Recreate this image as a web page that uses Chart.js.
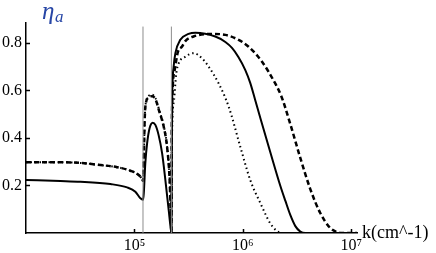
<!DOCTYPE html>
<html>
<head>
<meta charset="utf-8">
<script src="https://cdn.jsdelivr.net/npm/chart.js@4.4.1/dist/chart.umd.min.js"></script>
<style>
  html, body { margin: 0; padding: 0; background: #fff; }
  #wrap { width: 436px; height: 253px; position: relative; }
</style>
</head>
<body>
<div id="wrap"><canvas id="chart"></canvas></div>
<script>
// values (k in cm^-1, eta_a)
const solidK = [1.0e4, 2.08e4, 3.18e4, 6.01e4, 8.57e4, 1.02e5, 1.135e5, 1.2e5, 1.22e5, 1.26e5, 1.31e5, 1.38e5,
  1.476e5, 1.56e5, 1.67e5, 1.8e5, 1.93e5, 2.07e5, 2.175e5, 2.193e5, 2.223e5, 2.3e5, 2.39e5, 2.65e5, 3.16e5,
  3.65e5, 5.57e5, 6.9e5, 7.94e5, 9.1e5, 1.054e6, 1.17e6, 1.3e6, 1.45e6, 1.79e6, 2.22e6, 2.47e6, 2.74e6,
  3.05e6, 3.39e6, 3.77e6, 1.13e7];
const solidEta = [0.223, 0.219, 0.216, 0.206, 0.192, 0.174, 0.146, 0.140, 0.167, 0.293, 0.378, 0.441,
  0.464, 0.455, 0.413, 0.336, 0.223, 0.097, 0.01, 0, 0.518, 0.70, 0.758, 0.813, 0.838,
  0.843, 0.827, 0.804, 0.779, 0.741, 0.686, 0.632, 0.560, 0.484, 0.341, 0.198, 0.135, 0.076,
  0.029, 0.006, 0, 0];

const dashK = [1.0e4, 2.08e4, 3.18e4, 4.87e4, 6.94e4, 9.19e4, 1.096e5, 1.175e5, 1.2e5, 1.22e5, 1.236e5, 1.262e5,
  1.346e5, 1.455e5, 1.563e5, 1.7e5, 1.862e5, 2.0e5, 2.113e5, 2.178e5, 2.193e5, 2.21e5, 2.34e5, 2.51e5, 2.75e5,
  2.95e5, 3.55e5, 5.2e5, 6.9e5, 9.14e5, 1.13e6, 1.51e6, 1.91e6, 2.26e6, 2.74e6, 3.39e6, 4.19e6, 5.18e6,
  6.4e6, 7.59e6, 8.2e6, 1.13e7];
const dashEta = [0.298, 0.298, 0.295, 0.286, 0.277, 0.262, 0.244, 0.228, 0.22, 0.29, 0.434, 0.532,
  0.570, 0.576, 0.563, 0.51, 0.448, 0.363, 0.223, 0.04, 0, 0.45, 0.68, 0.76, 0.785,
  0.808, 0.828, 0.838, 0.834, 0.813, 0.784, 0.72, 0.644, 0.577, 0.459, 0.316, 0.185, 0.084,
  0.021, 0.002, 0, 0];

const dotK = [1.0e4, 2.08e4, 3.18e4, 4.87e4, 6.94e4, 9.19e4, 1.096e5, 1.175e5, 1.2e5, 1.22e5, 1.236e5, 1.262e5,
  1.346e5, 1.455e5, 1.563e5, 1.7e5, 1.862e5, 2.0e5, 2.113e5, 2.178e5, 2.193e5, 2.21e5, 2.32e5, 2.43e5, 2.56e5,
  2.95e5, 3.52e5, 4.21e5, 4.84e5, 5.98e5, 7.4e5, 9.48e5, 1.17e6, 1.45e6, 1.79e6, 2.07e6, 2.31e6, 1.13e7];
const dotEta = [0.298, 0.298, 0.295, 0.286, 0.277, 0.262, 0.244, 0.228, 0.22, 0.29, 0.434, 0.532,
  0.575, 0.582, 0.568, 0.515, 0.452, 0.366, 0.225, 0.04, 0, 0.35, 0.56, 0.67, 0.714,
  0.742, 0.757, 0.735, 0.70, 0.63, 0.532, 0.363, 0.223, 0.126, 0.041, 0.008, 0, 0];

// thin vertical markers
const markerK = [1.2e5, 2.193e5];
const markerTop = 0.869;

const yTicks = [0.2, 0.4, 0.6, 0.8];
const xTicks = [1e5, 1e6, 1e7];
const xTickLabels = ['10\u2075', '10\u2076', '10\u2077'];

const serif = "'Liberation Serif', 'Times New Roman', serif";

function pts(ks, ys) {
  return ks.map((k, i) => ({ x: k, y: ys[i] }));
}

const markerSets = markerK.map(k => ({
  data: [{ x: k, y: 0 }, { x: k, y: markerTop }],
  borderColor: '#8c8c8c',
  borderWidth: 1,
  pointRadius: 0
}));

// inward ticks + axis labels drawn by hand
const decor = {
  id: 'decor',
  afterDraw(chart) {
    const { ctx, chartArea: a, scales: { x, y } } = chart;
    ctx.save();
    ctx.strokeStyle = '#000';
    ctx.lineWidth = 1.5;
    ctx.beginPath();
    yTicks.forEach(v => {
      const py = Math.round(y.getPixelForValue(v)) + 0.5;
      ctx.moveTo(a.left, py);
      ctx.lineTo(a.left + 4, py);
    });
    xTicks.forEach(v => {
      const px = Math.round(x.getPixelForValue(v)) + 0.5;
      ctx.moveTo(px, a.bottom);
      ctx.lineTo(px, a.bottom - 4);
    });
    ctx.stroke();

    ctx.fillStyle = '#2746a6';
    ctx.textBaseline = 'alphabetic';
    ctx.font = 'italic 25px ' + serif;
    ctx.fillText('\u03b7', a.left + 16, 19);
    ctx.font = 'italic 17px ' + serif;
    ctx.fillText('a', a.left + 29, 22);

    ctx.fillStyle = '#000';
    ctx.font = '18px ' + serif;
    ctx.textBaseline = 'middle';
    ctx.fillText('k(cm^-1)', a.right + 5, a.bottom);
    ctx.restore();
  }
};

new Chart(document.getElementById('chart'), {
  type: 'line',
  data: {
    datasets: [
      ...markerSets,
      { data: pts(dotK, dotEta), borderColor: '#000', borderWidth: 2, borderDash: [1.5, 3], pointRadius: 0, cubicInterpolationMode: 'monotone' },
      { data: pts(dashK, dashEta), borderColor: '#000', borderWidth: 2.5, borderDash: [5, 3], pointRadius: 0, cubicInterpolationMode: 'monotone' },
      { data: pts(solidK, solidEta), borderColor: '#000', borderWidth: 2, pointRadius: 0, cubicInterpolationMode: 'monotone' }
    ]
  },
  options: {
    responsive: true,
    maintainAspectRatio: false,
    animation: false,
    layout: { padding: { top: 23, right: 79, left: 0, bottom: 0 } },
    plugins: { legend: { display: false }, tooltip: { enabled: false } },
    scales: {
      x: {
        type: 'logarithmic',
        min: 1e4,
        max: 1.13e7,
        afterBuildTicks: s => { s.ticks = xTicks.map(v => ({ value: v })); },
        afterFit: s => { s.height = 20; },
        grid: { display: true, drawOnChartArea: false, drawTicks: false },
        border: { display: true, color: '#000', width: 1.5 },
        ticks: {
          autoSkip: false,
          maxRotation: 0,
          padding: 3,
          color: '#000',
          font: { family: serif, size: 16 },
          callback: v => xTickLabels[xTicks.indexOf(v)]
        }
      },
      y: {
        min: 0,
        max: 0.884,
        afterBuildTicks: s => { s.ticks = yTicks.map(v => ({ value: v })); },
        afterFit: s => { s.width = 26; },
        grid: { display: true, drawOnChartArea: false, drawTicks: false },
        border: { display: true, color: '#000', width: 1.5 },
        ticks: {
          padding: 4,
          color: '#000',
          font: { family: serif, size: 16 },
          callback: v => v.toFixed(1)
        }
      }
    }
  },
  plugins: [decor]
});
</script>
</body>
</html>
